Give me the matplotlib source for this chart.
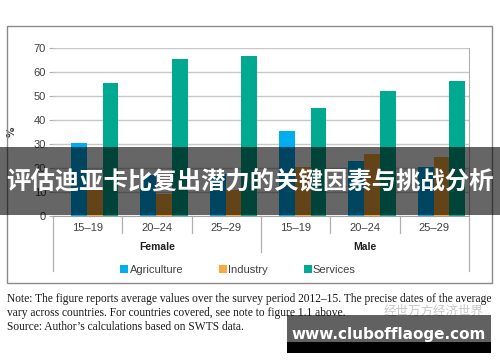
import numpy as np
import matplotlib
matplotlib.use("Agg")
import matplotlib.pyplot as plt
from matplotlib.patches import Rectangle
from matplotlib.transforms import blended_transform_factory

# 数据
ages = ["15–19", "20–24", "25–29", "15–19", "20–24", "25–29"]
groups = ["Female", "Male"]
agriculture = [30.5, 17, 17.5, 35.3, 22.8, 20.3]
industry = [12, 9, 11, 20.5, 25.7, 24.5]
services = [55.3, 65.6, 66.7, 44.8, 52.2, 56.1]
series_names = ["Agriculture", "Industry", "Services"]
colors = ["#00ADEE", "#F8AA3C", "#00A98F"]

note_lines = [
    "Note: The figure reports average values over the survey period 2012–15. The precise dates of the average",
    "vary across countries. For countries covered, see note to figure 1.1 above.",
    "Source: Author’s calculations based on SWTS data.",
]
banner_text = "评估迪亚卡比复出潜力的关键因素与挑战分析"
wm_small = "经世万方经济世界"
wm_url = "www.clubofflaoge.com"

W, H = 500, 362
fig = plt.figure(figsize=(5, 3.62), dpi=100)


def fx(x):
    return x / W


def fy(y):
    return 1 - y / H


# 外框
fig.patches.append(Rectangle((fx(7), fy(283)), fx(485), 257 / H, transform=fig.transFigure,
                             fill=False, edgecolor="#8a8a8a", lw=1.0, zorder=0))

ax = fig.add_axes([fx(53), fy(216), fx(416), 168 / H])
x = np.arange(len(ages))
bw = 0.227
offsets = [-0.125, 0.102, 0.329]
for vals, off, c, name in zip([agriculture, industry, services], offsets, colors, series_names):
    ax.bar(x + off, vals, width=bw, color=c, label=name, zorder=3)

ax.set_xlim(-0.5, 5.5)
ax.set_ylim(0, 70)
ax.set_yticks(range(0, 71, 10))
ax.yaxis.grid(True, color="#c8c8c8", lw=1.0, zorder=0)
ax.set_xticks([])
for s in ["top", "left"]:
    ax.spines[s].set_visible(False)
ax.spines["right"].set_color("#b0b0b0")
ax.spines["bottom"].set_color("#a0a0a0")
ax.tick_params(axis="y", length=3, color="#b0b0b0", labelsize=8, labelcolor="#404040", pad=2)
for lab in ax.get_yticklabels():
    lab.set_family(["Liberation Sans", "DejaVu Sans"])
ax.set_ylabel("%", fontsize=7.5, color="#404040", fontweight="bold", labelpad=12)

# 多级类别坐标轴
tr = blended_transform_factory(ax.transData, ax.transAxes)
for i, a in enumerate(ages):
    ax.text(i, -0.07, a, transform=tr, ha="center", va="center", fontsize=8,
            color="#404040", family=["Liberation Sans", "DejaVu Sans"])
for g, gx in zip(groups, [1, 4]):
    ax.text(gx, -0.185, g, transform=tr, ha="center", va="center", fontsize=7.5,
            fontweight="bold", color="#202020", family=["Liberation Sans Narrow", "Liberation Sans"])
for b in [0.5, 1.5, 3.5, 4.5]:
    ax.plot([b, b], [0, -0.101], transform=tr, color="#b0b0b0", lw=0.9, clip_on=False)
ax.plot([2.5, 2.5], [0, -0.214], transform=tr, color="#b0b0b0", lw=0.9, clip_on=False)
for b in [-0.5, 5.5]:
    ax.plot([b, b], [0, -0.327], transform=tr, color="#b0b0b0", lw=0.9, clip_on=False)

# 图例
handles, labels = ax.get_legend_handles_labels()
leg = fig.legend(handles, labels, loc="center", bbox_to_anchor=(fx(238), fy(270)), ncol=3,
                 frameon=False, fontsize=8, handlelength=0.75, handleheight=0.75,
                 handletextpad=0.1, columnspacing=3.2)
for t in leg.get_texts():
    t.set_color("#404040")
    t.set_family(["Liberation Sans", "DejaVu Sans"])

# 注释
for i, line in enumerate(note_lines):
    fig.text(fx(7), fy(299 + 14 * i), line, ha="left", va="center", fontsize=8.3,
             family="Liberation Serif", color="#1a1a1a")

# 横幅
fig.patches.append(Rectangle((0, fy(215)), 1, 68 / H, transform=fig.transFigure,
                             facecolor="black", alpha=0.6, lw=0, zorder=10))
fig.text(0.5, fy(181), banner_text, ha="center", va="center", fontsize=17.6, color="white",
         fontweight="bold", family=["Noto Sans CJK SC", "DejaVu Sans"], zorder=11)

# 水印
fig.text(fx(434), fy(311), wm_small, ha="center", va="center", fontsize=9, color="#c8c8c8",
         family=["Noto Sans CJK SC", "DejaVu Sans"], zorder=9)
fig.patches.append(Rectangle((fx(287), fy(342)), fx(204), 27 / H, transform=fig.transFigure,
                             facecolor="black", alpha=0.62, lw=0, zorder=10))
fig.patches.append(Rectangle((fx(287), fy(353)), fx(204), 11 / H, transform=fig.transFigure,
                             facecolor="black", lw=0, zorder=10))
fig.text(fx(389), fy(335), wm_url, ha="center", va="center", fontsize=11, color="white",
         fontweight="bold", family="DejaVu Sans", zorder=11)

fig.savefig("out.png", dpi=100)
